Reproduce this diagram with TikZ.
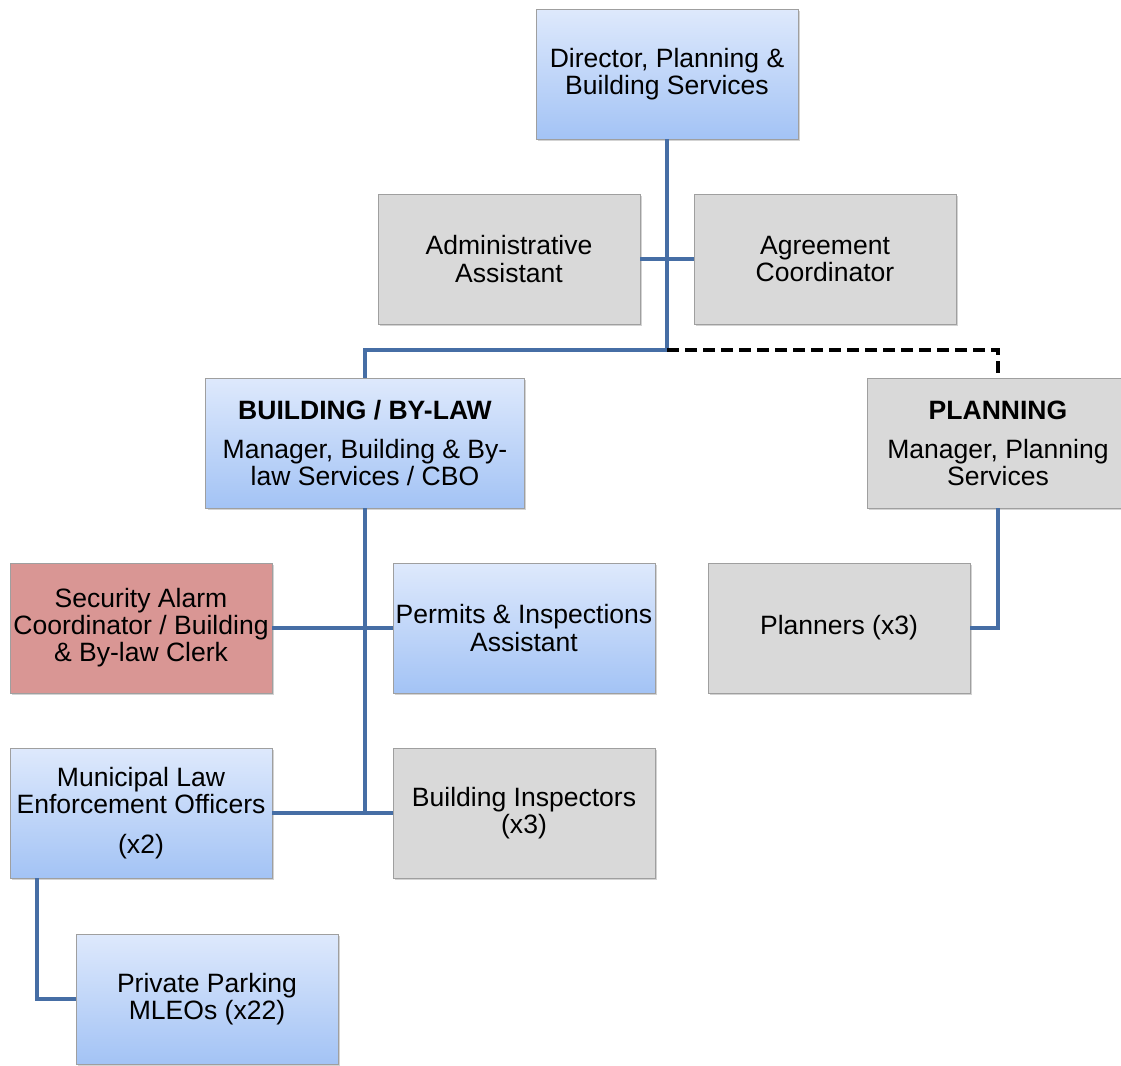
\documentclass[tikz,border=0pt]{standalone}
\usepackage{fontspec}
\setmainfont{Liberation Sans}
\usetikzlibrary{shadows}
\definecolor{boxblueTop}{RGB}{222,233,252}
\definecolor{boxblueBot}{RGB}{163,195,245}
\definecolor{boxgray}{RGB}{217,217,217}
\definecolor{boxred}{RGB}{217,150,148}
\definecolor{linkblue}{RGB}{70,110,165}
\begin{document}
\begin{tikzpicture}[x=0.75pt, y=-0.75pt,
    unit/.style={rectangle, draw=gray!75, thin, align=center,
        minimum width=196.5pt, minimum height=97.5pt, inner xsep=0pt,
        font=\fontsize{19.9}{20.3}\selectfont,
        drop shadow={shadow xshift=1.6pt, shadow yshift=-1.6pt, opacity=0.35}},
    blueunit/.style={unit, top color=boxblueTop, bottom color=boxblueBot},
    grayunit/.style={unit, fill=boxgray},
    redunit/.style={unit, fill=boxred},
    link/.style={draw=linkblue, line width=3pt},
    dashlink/.style={draw=black, line width=3pt, dash pattern=on 9pt off 4.5pt}]
    \useasboundingbox (0,0) rectangle (1121,1065);

    % Top of the chart
    \node[blueunit] (dir) at (667,74) {Director, Planning \&\\Building Services};
    \node[grayunit] (adm) at (509,259) {Administrative\\Assistant};
    \node[grayunit] (agr) at (825,259) {Agreement\\Coordinator};
    \coordinate (hub) at (667,350);

    % The two divisions
    \node[blueunit, minimum width=239pt] (bld) at (365,443)
        {\textbf{BUILDING / BY-LAW}\\[9pt]Manager, Building \& By-\\law Services / CBO};
    \node[grayunit] (pln) at (998,443)
        {\textbf{PLANNING}\\[9pt]Manager, Planning\\Services};

    % Staff under Building / By-law
    \node[redunit] (sec) at (141,628) {Security Alarm\\Coordinator / Building\\\& By-law Clerk};
    \node[blueunit] (per) at (524,628) {Permits \& Inspections\\Assistant};
    \node[blueunit] (mle) at (141,813) {Municipal Law\\Enforcement Officers\\[10pt](x2)};
    \node[grayunit] (ins) at (524,813) {Building Inspectors\\(x3)};
    \node[blueunit] (ppk) at (207,999) {Private Parking\\MLEOs (x22)};

    % Staff under Planning
    \node[grayunit] (plr) at (839,628) {Planners (x3)};

    % Reporting lines
    \draw[link] (dir.south) -- (hub) -| (bld.north);
    \draw[dashlink] (hub) -| (pln.north);
    \draw[link] (adm.east) -- (agr.west);
    \draw[link] (bld.south) -- (bld.south |- mle.east);
    \draw[link] (sec.east) -- (per.west);
    \draw[link] (mle.east) -- (ins.west);
    \draw[link] ([xshift=20.25pt]mle.south west) |- (ppk.west);
    \draw[link] (pln.south) |- (plr.east);
\end{tikzpicture}
\end{document}
